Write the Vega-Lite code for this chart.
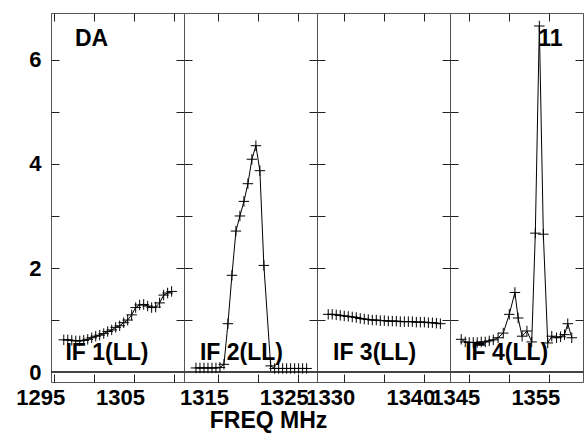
{
  "$schema": "https://vega.github.io/schema/vega-lite/v6.json",
  "padding": {"left": 0, "top": 12, "right": 0, "bottom": 0},
  "spacing": 0,
  "bounds": "flush",
  "data": {"values": [
    {"p": 1, "f": 1296.2, "a": 0.62}, {"p": 1, "f": 1296.7, "a": 0.62}, {"p": 1, "f": 1297.2, "a": 0.61}, {"p": 1, "f": 1297.7, "a": 0.60},
    {"p": 1, "f": 1298.2, "a": 0.60}, {"p": 1, "f": 1298.7, "a": 0.61}, {"p": 1, "f": 1299.2, "a": 0.63}, {"p": 1, "f": 1299.7, "a": 0.66},
    {"p": 1, "f": 1300.2, "a": 0.69}, {"p": 1, "f": 1300.7, "a": 0.71}, {"p": 1, "f": 1301.2, "a": 0.74}, {"p": 1, "f": 1301.7, "a": 0.78},
    {"p": 1, "f": 1302.2, "a": 0.81}, {"p": 1, "f": 1302.7, "a": 0.86}, {"p": 1, "f": 1303.2, "a": 0.89}, {"p": 1, "f": 1303.7, "a": 0.95},
    {"p": 1, "f": 1304.2, "a": 1.00}, {"p": 1, "f": 1304.7, "a": 1.10}, {"p": 1, "f": 1305.2, "a": 1.24}, {"p": 1, "f": 1305.7, "a": 1.29},
    {"p": 1, "f": 1306.2, "a": 1.30}, {"p": 1, "f": 1306.7, "a": 1.27}, {"p": 1, "f": 1307.2, "a": 1.24}, {"p": 1, "f": 1307.7, "a": 1.25},
    {"p": 1, "f": 1308.2, "a": 1.33}, {"p": 1, "f": 1308.7, "a": 1.48}, {"p": 1, "f": 1309.2, "a": 1.52}, {"p": 1, "f": 1309.7, "a": 1.55},
    {"p": 2, "f": 1312.25, "a": 0.08}, {"p": 2, "f": 1312.75, "a": 0.08}, {"p": 2, "f": 1313.25, "a": 0.08}, {"p": 2, "f": 1313.75, "a": 0.08},
    {"p": 2, "f": 1314.25, "a": 0.08}, {"p": 2, "f": 1314.75, "a": 0.08}, {"p": 2, "f": 1315.25, "a": 0.09}, {"p": 2, "f": 1315.75, "a": 0.15},
    {"p": 2, "f": 1316.25, "a": 0.93}, {"p": 2, "f": 1316.75, "a": 1.86}, {"p": 2, "f": 1317.25, "a": 2.71}, {"p": 2, "f": 1317.75, "a": 3.00},
    {"p": 2, "f": 1318.25, "a": 3.28}, {"p": 2, "f": 1318.75, "a": 3.62}, {"p": 2, "f": 1319.25, "a": 4.09}, {"p": 2, "f": 1319.75, "a": 4.35},
    {"p": 2, "f": 1320.25, "a": 3.87}, {"p": 2, "f": 1320.75, "a": 2.05}, {"p": 2, "f": 1321.6, "a": 0.12}, {"p": 2, "f": 1322.1, "a": 0.07},
    {"p": 2, "f": 1322.6, "a": 0.07}, {"p": 2, "f": 1323.1, "a": 0.07}, {"p": 2, "f": 1323.6, "a": 0.07}, {"p": 2, "f": 1324.1, "a": 0.07},
    {"p": 2, "f": 1324.6, "a": 0.07}, {"p": 2, "f": 1325.1, "a": 0.07}, {"p": 2, "f": 1325.6, "a": 0.07}, {"p": 2, "f": 1326.1, "a": 0.07},
    {"p": 3, "f": 1328.0, "a": 1.11}, {"p": 3, "f": 1328.5, "a": 1.11}, {"p": 3, "f": 1329.0, "a": 1.10}, {"p": 3, "f": 1329.5, "a": 1.09},
    {"p": 3, "f": 1330.0, "a": 1.08}, {"p": 3, "f": 1330.5, "a": 1.07}, {"p": 3, "f": 1331.0, "a": 1.06}, {"p": 3, "f": 1331.5, "a": 1.05},
    {"p": 3, "f": 1332.0, "a": 1.03}, {"p": 3, "f": 1332.5, "a": 1.02}, {"p": 3, "f": 1333.0, "a": 1.01}, {"p": 3, "f": 1333.5, "a": 1.00},
    {"p": 3, "f": 1334.0, "a": 1.00}, {"p": 3, "f": 1334.5, "a": 0.99}, {"p": 3, "f": 1335.0, "a": 0.99}, {"p": 3, "f": 1335.5, "a": 0.98},
    {"p": 3, "f": 1336.0, "a": 0.98}, {"p": 3, "f": 1336.5, "a": 0.98}, {"p": 3, "f": 1337.0, "a": 0.97}, {"p": 3, "f": 1337.5, "a": 0.97},
    {"p": 3, "f": 1338.0, "a": 0.97}, {"p": 3, "f": 1338.5, "a": 0.97}, {"p": 3, "f": 1339.0, "a": 0.96}, {"p": 3, "f": 1339.5, "a": 0.96},
    {"p": 3, "f": 1340.0, "a": 0.96}, {"p": 3, "f": 1340.5, "a": 0.95}, {"p": 3, "f": 1341.0, "a": 0.95}, {"p": 3, "f": 1341.5, "a": 0.94},
    {"p": 3, "f": 1342.0, "a": 0.93},
    {"p": 4, "f": 1344.0, "a": 0.63}, {"p": 4, "f": 1344.5, "a": 0.58}, {"p": 4, "f": 1345.0, "a": 0.57}, {"p": 4, "f": 1345.5, "a": 0.57},
    {"p": 4, "f": 1346.0, "a": 0.57}, {"p": 4, "f": 1346.5, "a": 0.58}, {"p": 4, "f": 1347.0, "a": 0.58}, {"p": 4, "f": 1347.5, "a": 0.60},
    {"p": 4, "f": 1348.0, "a": 0.62}, {"p": 4, "f": 1348.6, "a": 0.66}, {"p": 4, "f": 1349.25, "a": 0.75}, {"p": 4, "f": 1350.0, "a": 1.11},
    {"p": 4, "f": 1350.7, "a": 1.53}, {"p": 4, "f": 1351.1, "a": 1.04}, {"p": 4, "f": 1351.6, "a": 0.69}, {"p": 4, "f": 1352.2, "a": 0.79},
    {"p": 4, "f": 1352.8, "a": 0.58}, {"p": 4, "f": 1353.25, "a": 2.67}, {"p": 4, "f": 1353.75, "a": 6.65}, {"p": 4, "f": 1354.25, "a": 2.65},
    {"p": 4, "f": 1354.8, "a": 0.56}, {"p": 4, "f": 1355.3, "a": 0.69}, {"p": 4, "f": 1355.9, "a": 0.66}, {"p": 4, "f": 1356.4, "a": 0.68},
    {"p": 4, "f": 1356.9, "a": 0.72}, {"p": 4, "f": 1357.3, "a": 0.93}, {"p": 4, "f": 1357.8, "a": 0.66}
  ]},
  "hconcat": [
    {
      "width": 133, "height": 369,
      "layer": [
        {"mark": {"type": "rule", "color": "#444", "strokeWidth": 1.5},
         "encoding": {"y": {"datum": 0, "type": "quantitative", "scale": {"domain": [-0.19, 6.9], "nice": false, "zero": false}, "axis": null}}},
        {"transform": [{"filter": "datum.p == 1"}],
         "mark": {"type": "line", "color": "black", "strokeWidth": 1},
         "encoding": {
           "x": {"field": "f", "type": "quantitative", "scale": {"domain": [1294.6, 1311.25], "nice": false, "zero": false},
                 "axis": {"orient": "bottom", "values": [1295, 1300, 1305, 1310], "format": "d", "labelExpr": "datum.value % 10 == 5 ? datum.label : ''", "labelPadding": 13, "labelOffset": -14, "title": null}},
           "y": {"field": "a", "type": "quantitative", "scale": {"domain": [-0.19, 6.9], "nice": false, "zero": false},
                 "axis": {"orient": "left", "values": [0, 1, 2, 3, 4, 5, 6], "format": "d", "labelExpr": "datum.value % 2 == 0 ? datum.label : ''", "labelPadding": 18, "title": null, "minExtent": 50, "maxExtent": 50}}}},
        {"transform": [{"filter": "datum.p == 1"}],
         "mark": {"type": "point", "shape": "M-1,0H1M0,-1V1", "filled": false, "stroke": "black", "strokeWidth": 1, "size": 110, "opacity": 1},
         "encoding": {
           "x": {"field": "f", "type": "quantitative", "scale": {"domain": [1294.6, 1311.25], "nice": false, "zero": false},
                 "axis": {"orient": "top", "values": [1295, 1300, 1305, 1310], "labels": false, "title": null, "minExtent": 0, "maxExtent": 0}},
           "y": {"field": "a", "type": "quantitative", "scale": {"domain": [-0.19, 6.9], "nice": false, "zero": false},
                 "axis": {"orient": "right", "values": [0, 1, 2, 3, 4, 5, 6], "labels": false, "title": null, "minExtent": 0, "maxExtent": 0}}}},
        {"data": {"values": [{"f": 1296.4, "a": 0.23, "t": "IF 1(LL)"}, {"f": 1297.6, "a": 6.27, "t": "DA"}]},
         "mark": {"type": "text", "align": "left", "baseline": "alphabetic", "font": "Liberation Sans", "fontWeight": "bold", "fontSize": 23, "color": "black"},
         "encoding": {"x": {"field": "f", "type": "quantitative", "axis": null}, "y": {"field": "a", "type": "quantitative", "axis": null}, "text": {"field": "t"}}}
      ],
      "resolve": {"axis": {"x": "independent", "y": "independent"}}
    },
    {
      "width": 133, "height": 369,
      "layer": [
        {"mark": {"type": "rule", "color": "#444", "strokeWidth": 1.5},
         "encoding": {"y": {"datum": 0, "type": "quantitative", "scale": {"domain": [-0.19, 6.9], "nice": false, "zero": false}, "axis": null}}},
        {"transform": [{"filter": "datum.p == 2"}],
         "mark": {"type": "line", "color": "black", "strokeWidth": 1},
         "encoding": {
           "x": {"field": "f", "type": "quantitative", "scale": {"domain": [1310.75, 1327.4], "nice": false, "zero": false},
                 "axis": {"orient": "bottom", "values": [1315, 1320, 1325], "format": "d", "labelExpr": "datum.value % 10 == 5 ? datum.label : ''", "labelPadding": 13, "labelOffset": -14,
                          "title": "FREQ MHz", "titleFont": "Liberation Sans", "titleFontWeight": "bold", "titleFontSize": 23, "titleColor": "black", "titleX": 84, "titleY": 45, "titleBaseline": "alphabetic", "titleAlign": "center"}},
           "y": {"field": "a", "type": "quantitative", "scale": {"domain": [-0.19, 6.9], "nice": false, "zero": false},
                 "axis": {"orient": "left", "values": [0, 1, 2, 3, 4, 5, 6], "labels": false, "title": null, "minExtent": 0, "maxExtent": 0}}}},
        {"transform": [{"filter": "datum.p == 2"}],
         "mark": {"type": "point", "shape": "M-1,0H1M0,-1V1", "filled": false, "stroke": "black", "strokeWidth": 1, "size": 110, "opacity": 1},
         "encoding": {
           "x": {"field": "f", "type": "quantitative", "scale": {"domain": [1310.75, 1327.4], "nice": false, "zero": false},
                 "axis": {"orient": "top", "values": [1315, 1320, 1325], "labels": false, "title": null, "minExtent": 0, "maxExtent": 0}},
           "y": {"field": "a", "type": "quantitative", "scale": {"domain": [-0.19, 6.9], "nice": false, "zero": false},
                 "axis": {"orient": "right", "values": [0, 1, 2, 3, 4, 5, 6], "labels": false, "title": null, "minExtent": 0, "maxExtent": 0}}}},
        {"data": {"values": [{"f": 1312.75, "a": 0.23, "t": "IF 2(LL)"}]},
         "mark": {"type": "text", "align": "left", "baseline": "alphabetic", "font": "Liberation Sans", "fontWeight": "bold", "fontSize": 23, "color": "black"},
         "encoding": {"x": {"field": "f", "type": "quantitative", "axis": null}, "y": {"field": "a", "type": "quantitative", "axis": null}, "text": {"field": "t"}}}
      ],
      "resolve": {"axis": {"x": "independent", "y": "independent"}}
    },
    {
      "width": 133, "height": 369,
      "layer": [
        {"mark": {"type": "rule", "color": "#444", "strokeWidth": 1.5},
         "encoding": {"y": {"datum": 0, "type": "quantitative", "scale": {"domain": [-0.19, 6.9], "nice": false, "zero": false}, "axis": null}}},
        {"transform": [{"filter": "datum.p == 3"}],
         "mark": {"type": "line", "color": "black", "strokeWidth": 1},
         "encoding": {
           "x": {"field": "f", "type": "quantitative", "scale": {"domain": [1326.6, 1343.2], "nice": false, "zero": false},
                 "axis": {"orient": "bottom", "values": [1330, 1335, 1340], "format": "d", "labelExpr": "datum.value % 10 == 0 ? datum.label : ''", "labelPadding": 13, "labelOffset": -14, "title": null}},
           "y": {"field": "a", "type": "quantitative", "scale": {"domain": [-0.19, 6.9], "nice": false, "zero": false},
                 "axis": {"orient": "left", "values": [0, 1, 2, 3, 4, 5, 6], "labels": false, "title": null, "minExtent": 0, "maxExtent": 0}}}},
        {"transform": [{"filter": "datum.p == 3"}],
         "mark": {"type": "point", "shape": "M-1,0H1M0,-1V1", "filled": false, "stroke": "black", "strokeWidth": 1, "size": 110, "opacity": 1},
         "encoding": {
           "x": {"field": "f", "type": "quantitative", "scale": {"domain": [1326.6, 1343.2], "nice": false, "zero": false},
                 "axis": {"orient": "top", "values": [1330, 1335, 1340], "labels": false, "title": null, "minExtent": 0, "maxExtent": 0}},
           "y": {"field": "a", "type": "quantitative", "scale": {"domain": [-0.19, 6.9], "nice": false, "zero": false},
                 "axis": {"orient": "right", "values": [0, 1, 2, 3, 4, 5, 6], "labels": false, "title": null, "minExtent": 0, "maxExtent": 0}}}},
        {"data": {"values": [{"f": 1328.6, "a": 0.23, "t": "IF 3(LL)"}]},
         "mark": {"type": "text", "align": "left", "baseline": "alphabetic", "font": "Liberation Sans", "fontWeight": "bold", "fontSize": 23, "color": "black"},
         "encoding": {"x": {"field": "f", "type": "quantitative", "axis": null}, "y": {"field": "a", "type": "quantitative", "axis": null}, "text": {"field": "t"}}}
      ],
      "resolve": {"axis": {"x": "independent", "y": "independent"}}
    },
    {
      "width": 133, "height": 369,
      "layer": [
        {"mark": {"type": "rule", "color": "#444", "strokeWidth": 1.5},
         "encoding": {"y": {"datum": 0, "type": "quantitative", "scale": {"domain": [-0.19, 6.9], "nice": false, "zero": false}, "axis": null}}},
        {"transform": [{"filter": "datum.p == 4"}],
         "mark": {"type": "line", "color": "black", "strokeWidth": 1},
         "encoding": {
           "x": {"field": "f", "type": "quantitative", "scale": {"domain": [1342.6, 1359.2], "nice": false, "zero": false},
                 "axis": {"orient": "bottom", "values": [1345, 1350, 1355], "format": "d", "labelExpr": "datum.value % 10 == 5 ? datum.label : ''", "labelPadding": 13, "labelOffset": -14, "title": null}},
           "y": {"field": "a", "type": "quantitative", "scale": {"domain": [-0.19, 6.9], "nice": false, "zero": false},
                 "axis": {"orient": "left", "values": [0, 1, 2, 3, 4, 5, 6], "labels": false, "title": null, "minExtent": 0, "maxExtent": 0}}}},
        {"transform": [{"filter": "datum.p == 4"}],
         "mark": {"type": "point", "shape": "M-1,0H1M0,-1V1", "filled": false, "stroke": "black", "strokeWidth": 1, "size": 110, "opacity": 1},
         "encoding": {
           "x": {"field": "f", "type": "quantitative", "scale": {"domain": [1342.6, 1359.2], "nice": false, "zero": false},
                 "axis": {"orient": "top", "values": [1345, 1350, 1355], "labels": false, "title": null, "minExtent": 0, "maxExtent": 0}},
           "y": {"field": "a", "type": "quantitative", "scale": {"domain": [-0.19, 6.9], "nice": false, "zero": false},
                 "axis": {"orient": "right", "values": [0, 1, 2, 3, 4, 5, 6], "labels": false, "title": null, "minExtent": 0, "maxExtent": 0}}}},
        {"data": {"values": [{"f": 1344.5, "a": 0.23, "t": "IF 4(LL)"}, {"f": 1353.6, "a": 6.27, "t": "11"}]},
         "mark": {"type": "text", "align": "left", "baseline": "alphabetic", "font": "Liberation Sans", "fontWeight": "bold", "fontSize": 23, "color": "black"},
         "encoding": {"x": {"field": "f", "type": "quantitative", "axis": null}, "y": {"field": "a", "type": "quantitative", "axis": null}, "text": {"field": "t"}}}
      ],
      "resolve": {"axis": {"x": "independent", "y": "independent"}}
    }
  ],
  "config": {
    "view": {"stroke": "#555", "strokeWidth": 1},
    "axis": {"grid": false, "domain": false, "ticks": true, "tickSize": -8, "tickColor": "#222", "tickWidth": 1,
             "labelFont": "Liberation Sans", "labelFontWeight": "bold", "labelFontSize": 22, "labelColor": "black",
             "labelFlush": false, "labelOverlap": false, "labelBound": false}
  }
}
